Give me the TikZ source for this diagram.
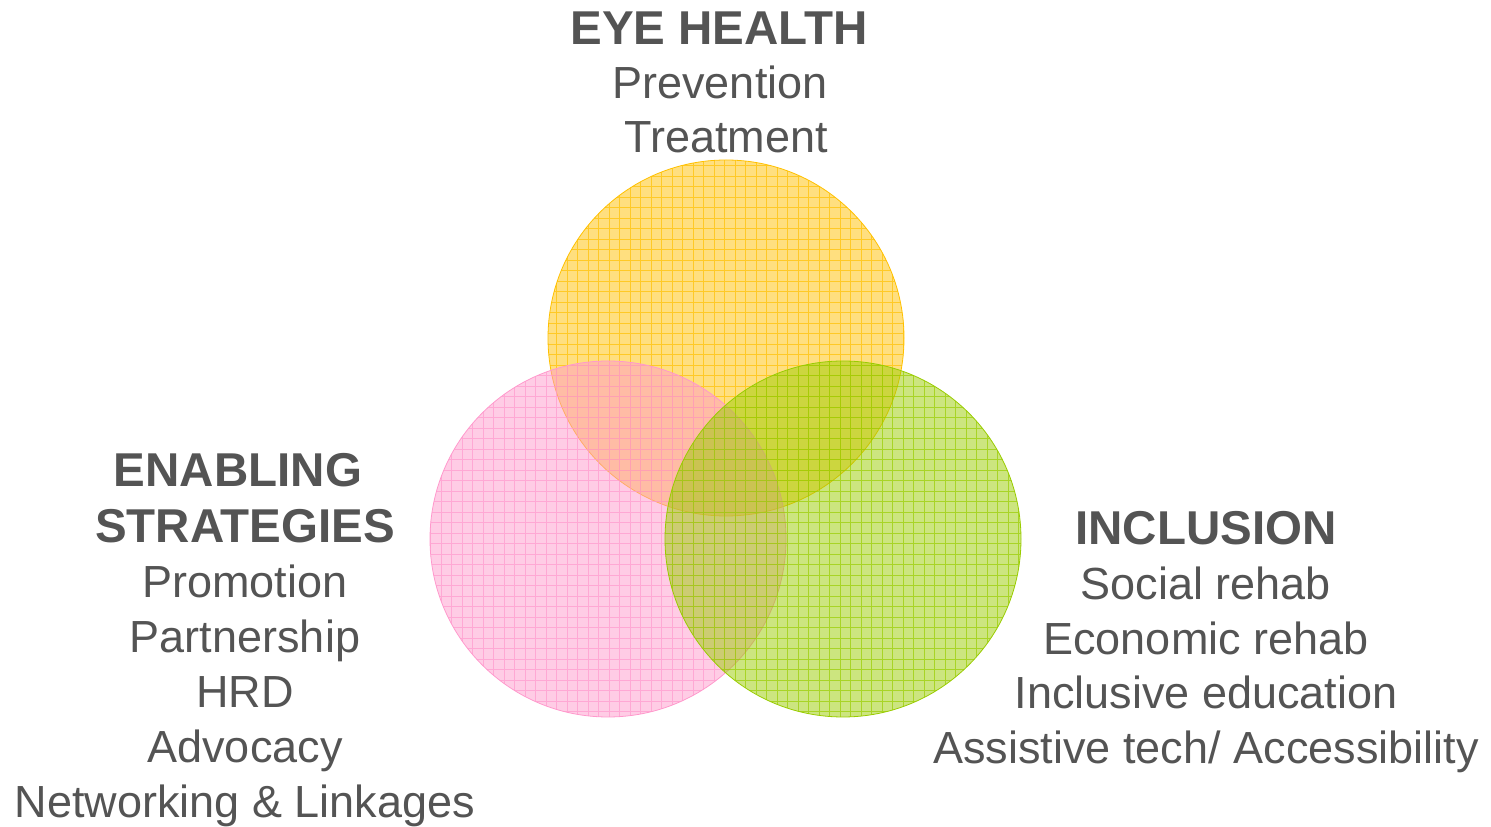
\documentclass[tikz,border=0pt]{standalone}
\usepackage{fontspec}
\setmainfont{Liberation Sans}
\definecolor{vennyellow}{HTML}{FFC000}
\definecolor{vennpink}{HTML}{FF99CC}
\definecolor{venngreen}{HTML}{99CC00}
\definecolor{venntext}{HTML}{545454}

\tikzset{
  head/.style={anchor=base, text=venntext, font=\fontsize{47.5}{55}\selectfont\bfseries},
  item/.style={anchor=base, text=venntext, font=\fontsize{45}{55}\selectfont},
  disc/.style={fill=#1, fill opacity=0.5},
  mesh/.style={draw=#1, draw opacity=0.7, line width=0.9pt, step=10.5pt},
  rim/.style={draw=#1, line width=0.8pt}
}

\begin{document}
\begin{tikzpicture}[x=1pt,y=1pt]
\useasboundingbox (0,0) rectangle (1491,827);

% Circle centres
\coordinate (eye) at (726,489);
\coordinate (enab) at (608,288);
\coordinate (incl) at (843,288);

% Eye health circle
\fill[disc=vennyellow] (eye) circle (178);
\begin{scope}
  \clip (eye) circle (178);
  \draw[mesh=vennyellow] (540,303) grid (912,675);
\end{scope}
\draw[rim=vennyellow] (eye) circle (178);

% Enabling strategies circle
\fill[disc=vennpink] (enab) circle (178);
\begin{scope}
  \clip (enab) circle (178);
  \draw[mesh=vennpink] (422,102) grid (794,474);
\end{scope}
\draw[rim=vennpink] (enab) circle (178);

% Inclusion circle
\fill[disc=venngreen] (incl) circle (178);
\begin{scope}
  \clip (incl) circle (178);
  \draw[mesh=venngreen] (657,102) grid (1029,474);
\end{scope}
\draw[rim=venngreen] (incl) circle (178);

% Eye health text
\node[head] (eyehead) at (719,782) {EYE HEALTH};
\node[item] (eyeprev) at (720,728.5) {Prevention};
\node[item] (eyetreat) at (726,674) {Treatment};

% Enabling strategies text
\node[head] (enabhead) at (238,340) {ENABLING};
\node[head] (enabhead2) at (245,284.5) {STRATEGIES};
\node[item] (enabprom) at (245,229) {Promotion};
\node[item] (enabpart) at (245,174) {Partnership};
\node[item] (enabhrd) at (245,119) {HRD};
\node[item] (enabadv) at (245,64) {Advocacy};
\node[item] (enabnet) at (245,9) {Networking \& Linkages};

% Inclusion text
\node[head] (inclhead) at (1206,282) {INCLUSION};
\node[item] (inclsoc) at (1206,227) {Social rehab};
\node[item] (inclecon) at (1206,172) {Economic rehab};
\node[item] (incledu) at (1206,118) {Inclusive education};
\node[item] (inclacc) at (1206,63) {Assistive tech/ Accessibility};
\end{tikzpicture}
\end{document}
